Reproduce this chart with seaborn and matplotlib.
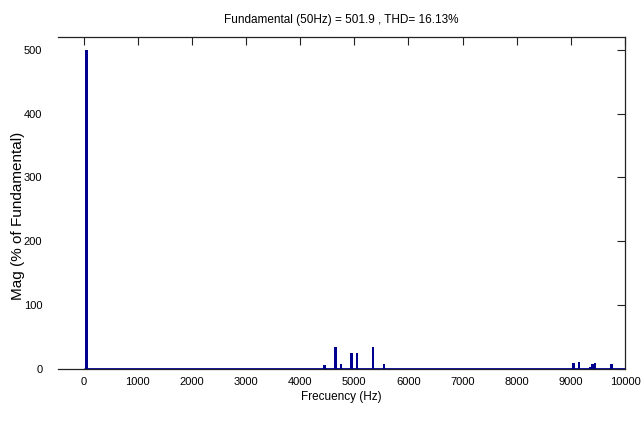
import matplotlib
matplotlib.use("Agg")
import matplotlib.pyplot as plt
import seaborn as sns
import pandas as pd

# ---- data ----
harmonic_freq_hz = [50, 4450, 4650, 4750, 4950, 5050, 5350, 5550,
                    9050, 9150, 9350, 9400, 9450, 9750]
harmonic_mag = [500, 7, 35, 8, 25, 25, 34, 8,
                10, 11, 3, 8, 9, 8]
max_frequency_hz = 10000
x_ticks = list(range(0, 10001, 1000))
y_ticks = list(range(0, 501, 100))
title_text = "Fundamental (50Hz) = 501.9 , THD= 16.13%"
xlabel_text = "Frecuency (Hz)"
ylabel_text = "Mag (% of Fundamental)"

bar_color = "#00008F"

sns.set_theme(style="white")
plt.rcParams["font.family"] = ["Liberation Sans", "DejaVu Sans"]

df = pd.DataFrame({"freq": harmonic_freq_hz, "mag": harmonic_mag})

fig = plt.figure(figsize=(6.43, 4.23), dpi=100)
ax = fig.add_axes([0.0897, 0.1277, 0.972 - 0.0897, 0.9125 - 0.1277])

sns.barplot(data=df, x="freq", y="mag", native_scale=True, color=bar_color,
            saturation=1, width=0.9, errorbar=None, linewidth=0, ax=ax)

# baseline drawn by the zero-valued harmonic bins
ax.hlines(0, 0, max_frequency_hz, color=bar_color, linewidth=2, zorder=3)

ax.set_xlim(-480, max_frequency_hz)
ax.set_ylim(0, 520)
ax.set_xticks(x_ticks)
ax.set_xticklabels([str(t) for t in x_ticks])
ax.set_yticks(y_ticks)
ax.set_yticklabels([str(t) for t in y_ticks])

ax.tick_params(direction="in", length=6, width=0.8, top=True, right=True,
               colors="#222222", labelcolor="black", labelsize=8)
ax.tick_params(axis="x", pad=6)
ax.tick_params(axis="y", pad=11)

for side in ["top", "right", "bottom"]:
    ax.spines[side].set_visible(True)
    ax.spines[side].set_color("#222222")
    ax.spines[side].set_linewidth(0.9)
ax.spines["left"].set_visible(False)

ax.set_title(title_text, fontsize=8.5, pad=10, color="black")
ax.set_xlabel(xlabel_text, fontsize=8.5, labelpad=3, color="black")
ax.set_ylabel(ylabel_text, fontsize=11, color="black")
# position of the y label as placed in the reference (axes fraction)
ax.yaxis.set_label_coords(-0.058, 0.46)
ax.grid(False)

fig.savefig("out.png", dpi=100)
